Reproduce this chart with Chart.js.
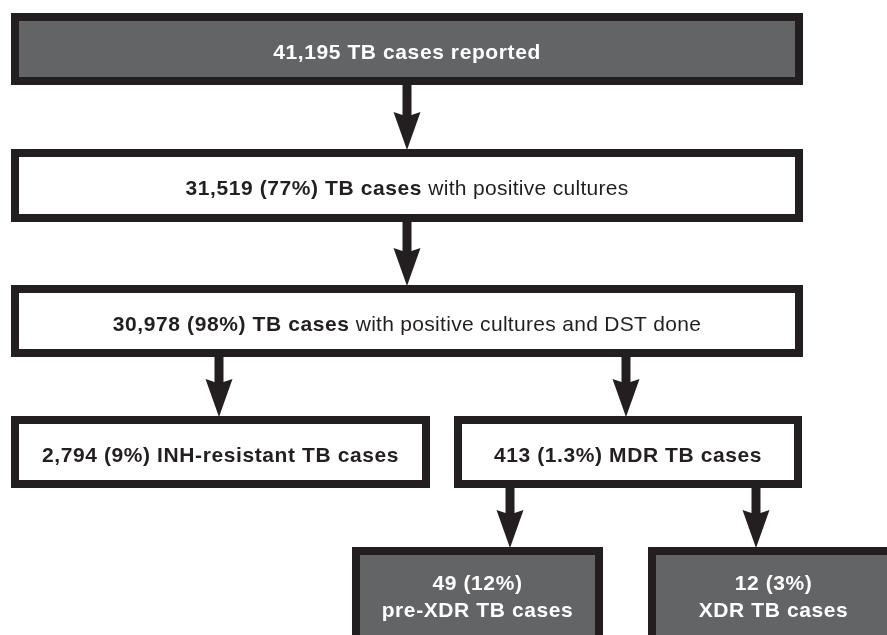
<!DOCTYPE html>
<html>
<head>
<meta charset="utf-8">
<script src="https://cdn.jsdelivr.net/npm/chart.js@4"></script>
<style>
  html, body { margin: 0; padding: 0; background: #ffffff; }
  canvas { display: block; }
</style>
</head>
<body>
<canvas id="flowChart" width="887" height="635"></canvas>
<script>
// flow of reported TB cases
const stages = ['TB cases reported', 'TB cases', 'TB cases', 'INH-resistant TB cases', 'MDR TB cases', 'pre-XDR TB cases', 'XDR TB cases'];
const cases = [41195, 31519, 30978, 2794, 413, 49, 12];
const percents = [null, '77%', '98%', '9%', '1.3%', '12%', '3%'];
const notes = ['', 'with positive cultures', 'with positive cultures and DST done', '', '', '', ''];
const parents = [null, 0, 1, 2, 2, 4, 4];

// layout (in axis units, axes span the whole picture)
const layout = [
    { x0: 11, x1: 803, y0: 13, y1: 85, dark: true },
    { x0: 11, x1: 803, y0: 149, y1: 222 },
    { x0: 11, x1: 803, y0: 285, y1: 357 },
    { x0: 11, x1: 430, y0: 416, y1: 488 },
    { x0: 454, x1: 802, y0: 416, y1: 488 },
    { x0: 352, x1: 603, y0: 547, y1: 680, dark: true, split: true },
    { x0: 648, x1: 899, y0: 547, y1: 680, dark: true, split: true }
];
const arrowX = [null, 407, 407, 219, 626, 510, 756];

const INK = '#231f20';
const GREY = '#636466';
const BORDER = 8;
const FONT_SIZE = 21;
const SPACING = { bold: 0.6, plain: 0.3 };

function fmt(n) {
    return n.toLocaleString('en-US');
}

function runsFor(i) {
    const head = percents[i] ? `${fmt(cases[i])} (${percents[i]})` : fmt(cases[i]);
    if (layout[i].split) {
        return [[[head, true]], [[stages[i], true]]];
    }
    const line = [[`${head} ${stages[i]}`, true]];
    if (notes[i]) line.push([' ' + notes[i], false]);
    return [line];
}

function fontFor(bold) {
    return `${bold ? 'bold ' : ''}${FONT_SIZE}px "Liberation Sans", Arial, Helvetica, sans-serif`;
}

function drawLine(ctx, runs, cx, baseline, color) {
    let total = 0;
    runs.forEach(([text, bold]) => {
        ctx.font = fontFor(bold);
        const sp = bold ? SPACING.bold : SPACING.plain;
        for (const ch of text) total += ctx.measureText(ch).width + sp;
    });
    let x = cx - total / 2;
    ctx.fillStyle = color;
    ctx.textBaseline = 'alphabetic';
    ctx.textAlign = 'left';
    runs.forEach(([text, bold]) => {
        ctx.font = fontFor(bold);
        const sp = bold ? SPACING.bold : SPACING.plain;
        for (const ch of text) {
            ctx.fillText(ch, x, baseline);
            x += ctx.measureText(ch).width + sp;
        }
    });
}

function drawArrow(ctx, x, yTop, yTip) {
    const shaft = 4.5, half = 13.5, headLen = 38, notch = 3;
    const yHead = yTip - headLen;
    ctx.beginPath();
    ctx.moveTo(x - shaft, yTop);
    ctx.lineTo(x - shaft, yHead + notch);
    ctx.lineTo(x - half, yHead);
    ctx.lineTo(x, yTip);
    ctx.lineTo(x + half, yHead);
    ctx.lineTo(x + shaft, yHead + notch);
    ctx.lineTo(x + shaft, yTop);
    ctx.closePath();
    ctx.fillStyle = INK;
    ctx.fill();
}

const flowPlugin = {
    id: 'flowPlugin',
    afterDraw(chart) {
        const ctx = chart.ctx;
        const xs = chart.scales.x;
        const ys = chart.scales.y;
        ctx.save();

        // arrows first, boxes on top
        parents.forEach((p, i) => {
            if (p === null) return;
            const x = xs.getPixelForValue(arrowX[i]);
            drawArrow(ctx, x, ys.getPixelForValue(layout[p].y1) - 1, ys.getPixelForValue(layout[i].y0) + 1);
        });

        layout.forEach((b, i) => {
            const left = xs.getPixelForValue(b.x0);
            const right = xs.getPixelForValue(b.x1);
            const top = ys.getPixelForValue(b.y0);
            const bottom = ys.getPixelForValue(b.y1);
            ctx.fillStyle = INK;
            ctx.fillRect(left, top, right - left, bottom - top);
            ctx.fillStyle = b.dark ? GREY : '#ffffff';
            ctx.fillRect(left + BORDER, top + BORDER, right - left - 2 * BORDER, bottom - top - 2 * BORDER);

            const cx = (left + right) / 2;
            const color = b.dark ? '#ffffff' : INK;
            const lines = runsFor(i);
            if (lines.length === 1) {
                const mid = (top + bottom) / 2 + 2;
                drawLine(ctx, lines[0], cx, mid + FONT_SIZE * 0.36, color);
            } else {
                drawLine(ctx, lines[0], cx, top + 43, color);
                drawLine(ctx, lines[1], cx, top + 70, color);
            }
        });
        ctx.restore();
    }
};

new Chart(document.getElementById('flowChart'), {
    type: 'scatter',
    data: { datasets: [{ data: [], pointRadius: 0 }] },
    options: {
        responsive: false,
        animation: false,
        devicePixelRatio: 1,
        layout: { padding: 0 },
        plugins: { legend: { display: false }, tooltip: { enabled: false } },
        scales: {
            x: { type: 'linear', min: 0, max: 887, display: false },
            y: { type: 'linear', min: 0, max: 635, reverse: true, display: false }
        }
    },
    plugins: [flowPlugin]
});
</script>
</body>
</html>
